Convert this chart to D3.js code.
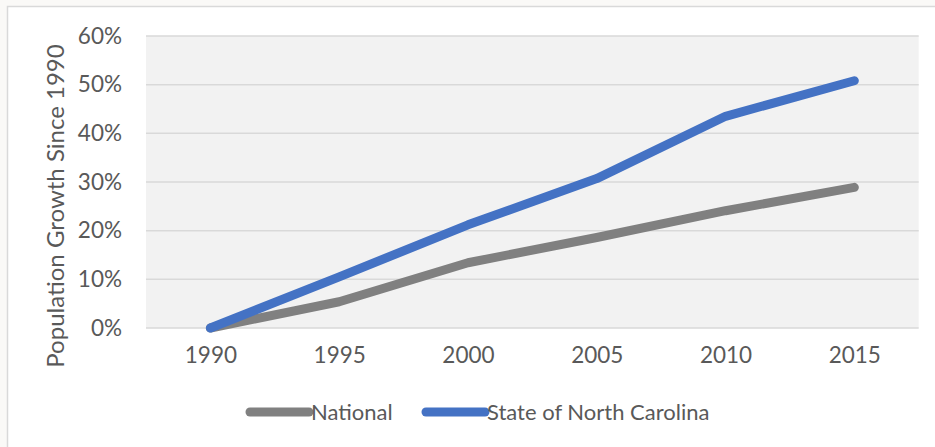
<!DOCTYPE html>
<html>
<head>
<meta charset="utf-8">
<script src="https://cdn.jsdelivr.net/npm/d3@7"></script>
<style>
  html, body { margin: 0; padding: 0; background: #faf9f7; }
  svg { display: block; }
  text { font-family: Lato, "Open Sans", sans-serif; fill: #595959; }
</style>
</head>
<body>
<script>
// Population growth relative to 1990
const years = ["1990", "1995", "2000", "2005", "2010", "2015"];
const national = [0, 0.054, 0.134, 0.186, 0.241, 0.289];
const northCarolina = [0, 0.105, 0.212, 0.307, 0.435, 0.508];
const yTicks = [0, 0.1, 0.2, 0.3, 0.4, 0.5, 0.6];
const seriesNames = ["National", "State of North Carolina"];
const seriesColors = ["#808080", "#4472c4"];

const W = 935, H = 447;
const svg = d3.select("body").append("svg").attr("width", W).attr("height", H);

// chart frame
svg.append("rect").attr("x", 7.5).attr("y", 6.5).attr("width", W).attr("height", H)
  .attr("fill", "#ffffff").attr("stroke", "#d9d9d9").attr("stroke-width", 1.5);

const plot = { left: 146, right: 918.7, top: 36, bottom: 328 };

const x = d3.scalePoint().domain(years).range([plot.left, plot.right]).padding(0.5);
const y = d3.scaleLinear().domain([0, 0.6]).range([plot.bottom, plot.top]);

// plot background
svg.append("rect").attr("x", plot.left).attr("y", plot.top)
  .attr("width", plot.right - plot.left).attr("height", plot.bottom - plot.top)
  .attr("fill", "#f2f2f2");

// horizontal gridlines
svg.append("g").selectAll("line").data(yTicks).join("line")
  .attr("x1", plot.left).attr("x2", plot.right)
  .attr("y1", d => y(d)).attr("y2", d => y(d))
  .attr("stroke", "#d9d9d9").attr("stroke-width", 1.5);

const tickFont = 22.5;

// y axis labels
const yAxis = d3.axisLeft(y).tickValues(yTicks).tickFormat(d3.format(".0%")).tickSize(0).tickPadding(0);
const gy = svg.append("g").attr("transform", "translate(122,0)").call(yAxis);
gy.select(".domain").remove();
gy.selectAll("text").attr("font-size", tickFont).attr("fill", "#595959")
  .style("font-family", "Lato, 'Open Sans', sans-serif");

// x axis labels
const xAxis = d3.axisBottom(x).tickSize(0).tickPadding(0);
const gx = svg.append("g").attr("transform", "translate(0,347)").call(xAxis);
gx.select(".domain").remove();
gx.selectAll("text").attr("font-size", tickFont).attr("fill", "#595959")
  .style("font-family", "Lato, 'Open Sans', sans-serif");

// y axis title
svg.append("text")
  .attr("transform", "translate(64,206) rotate(-90)")
  .attr("text-anchor", "middle")
  .attr("font-size", 24)
  .text("Population Growth Since 1990");

// series lines
const line = d3.line().x((d, i) => x(years[i])).y(d => y(d));
[national, northCarolina].forEach((vals, k) => {
  svg.append("path").datum(vals)
    .attr("d", line)
    .attr("fill", "none")
    .attr("stroke", seriesColors[k])
    .attr("stroke-width", 9)
    .attr("stroke-linecap", "round")
    .attr("stroke-linejoin", "round");
});

// legend
const legendItems = [
  { x0: 250, x1: 309, tx: 311 },
  { x0: 426, x1: 485, tx: 487 }
];
const lg = svg.append("g");
legendItems.forEach((it, k) => {
  lg.append("line").attr("x1", it.x0).attr("x2", it.x1).attr("y1", 412).attr("y2", 412)
    .attr("stroke", seriesColors[k]).attr("stroke-width", 9).attr("stroke-linecap", "round");
  lg.append("text").attr("x", it.tx).attr("y", 412).attr("dy", "0.35em")
    .attr("font-size", 22).text(seriesNames[k]);
});
</script>
</body>
</html>
